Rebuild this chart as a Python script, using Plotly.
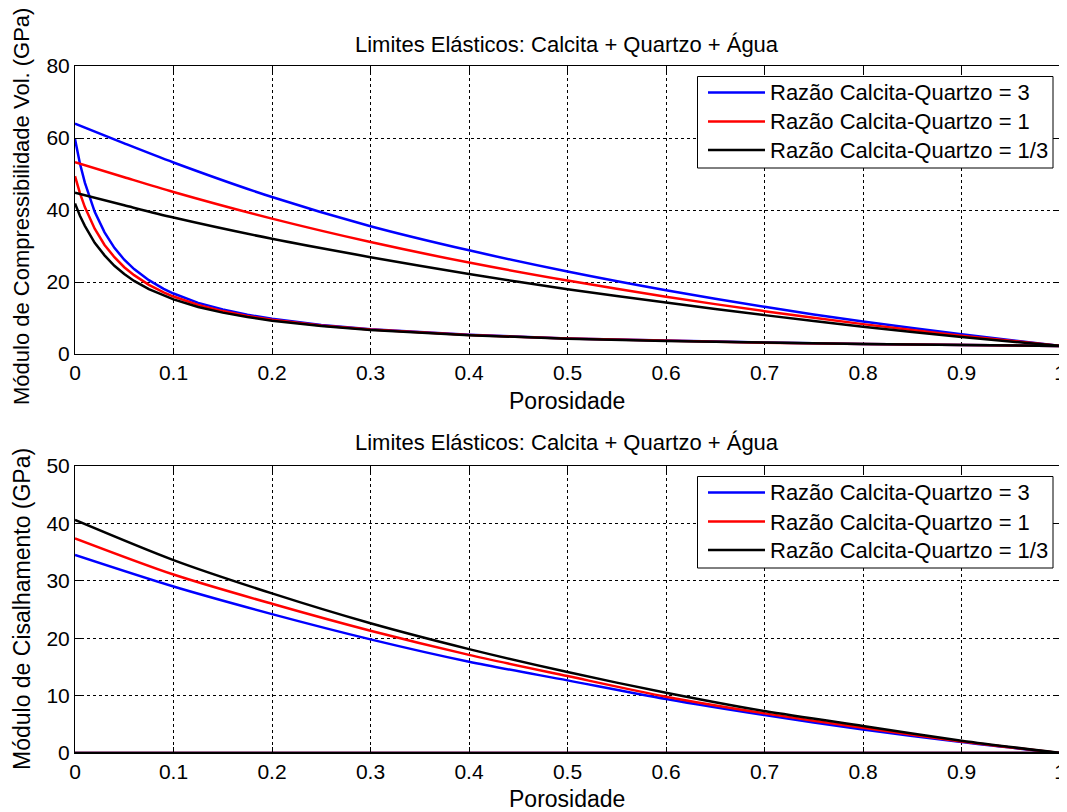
import plotly.graph_objects as go

# ---------------- data ----------------
legend_labels = ["Razão Calcita-Quartzo = 3", "Razão Calcita-Quartzo = 1", "Razão Calcita-Quartzo = 1/3"]
series_colors = ["#0000ff", "#ff0000", "#000000"]

x_ticks = [0, 0.1, 0.2, 0.3, 0.4, 0.5, 0.6, 0.7, 0.8, 0.9, 1.0]
x_tick_text = ["0", "0.1", "0.2", "0.3", "0.4", "0.5", "0.6", "0.7", "0.8", "0.9", "1"]
k_ticks = [0, 20, 40, 60, 80]
mu_ticks = [0, 10, 20, 30, 40, 50]

# Bulk modulus - upper bounds
porosity_k_upper = [0, 0.05, 0.1, 0.2, 0.3, 0.4, 0.5, 0.6, 0.7, 0.8, 0.9, 1.0]
k_upper_r3 = [64.0, 58.5, 53.2, 43.6, 35.5, 28.8, 22.9, 17.7, 13.1, 9.0, 5.5, 2.25]
k_upper_r1 = [53.3, 49.1, 45.0, 37.6, 31.1, 25.4, 20.4, 15.9, 11.9, 8.3, 5.1, 2.25]
k_upper_r13 = [44.8, 41.3, 37.9, 32.0, 26.9, 22.2, 18.0, 14.3, 10.8, 7.6, 4.7, 2.25]

# Bulk modulus - lower bounds
porosity_k_lower = [0, 0.0025, 0.005, 0.01, 0.015, 0.02, 0.03, 0.04, 0.05, 0.06, 0.075,
                    0.09, 0.1, 0.125, 0.15, 0.175, 0.2, 0.25, 0.3, 0.4, 0.5, 0.6, 0.7,
                    0.8, 0.9, 1.0]
k_lower_r3 = [59.7, 56.1, 52.9, 47.6, 43.2, 39.5, 33.8, 29.5, 26.2, 23.6, 20.5,
              18.1, 16.8, 14.2, 12.4, 10.9, 9.78, 8.09, 6.89, 5.32, 4.34, 3.66, 3.16,
              2.79, 2.49, 2.25]
k_lower_r1 = [49.4, 46.9, 44.7, 40.8, 37.6, 34.8, 30.3, 26.9, 24.1, 21.9, 19.2,
              17.1, 15.96, 13.65, 11.92, 10.58, 9.52, 7.92, 6.78, 5.27, 4.30, 3.64, 3.15,
              2.78, 2.49, 2.25]
k_lower_r13 = [41.8, 40.0, 38.4, 35.6, 33.1, 30.9, 27.4, 24.5, 22.2, 20.3, 18.0,
               16.2, 15.16, 13.07, 11.49, 10.25, 9.26, 7.75, 6.66, 5.20, 4.27, 3.62, 3.14,
               2.78, 2.49, 2.25]

# Shear modulus - upper bounds
porosity_mu_upper = [0, 0.1, 0.2, 0.3, 0.4, 0.5, 0.6, 0.7, 0.8, 0.9, 1.0]
mu_upper_r3 = [34.5, 29.0, 24.2, 19.8, 15.9, 12.65, 9.4, 6.6, 4.1, 1.9, 0.0]
mu_upper_r1 = [37.4, 31.1, 26.0, 21.3, 17.1, 13.4, 9.8, 6.9, 4.4, 2.0, 0.0]
mu_upper_r13 = [40.6, 33.6, 27.8, 22.6, 18.1, 14.1, 10.5, 7.3, 4.7, 2.15, 0.0]

# Shear modulus - lower bounds
porosity_mu_lower = [0, 1.0]
mu_lower_r3 = [0.0, 0.0]
mu_lower_r1 = [0.0, 0.0]
mu_lower_r13 = [0.0, 0.0]

title_text = "Limites Elásticos: Calcita + Quartzo + Água"
x_title = "Porosidade"
k_title = "Módulo de Compressibilidade Vol. (GPa)"
mu_title = "Módulo de Cisalhamento (GPa)"

# ---------------- figure ----------------
FONT = "Liberation Sans, Arial, Helvetica, sans-serif"
OFF = 8                      # page body margin offset
W, H = 1067 - OFF, 812 - OFF


def xp(px):
    return (px - OFF) / W


def yp(py):
    return 1 - (py - OFF) / H


fig = go.Figure()

k_up = [k_upper_r3, k_upper_r1, k_upper_r13]
k_lo = [k_lower_r3, k_lower_r1, k_lower_r13]
mu_up = [mu_upper_r3, mu_upper_r1, mu_upper_r13]
mu_lo = [mu_lower_r3, mu_lower_r1, mu_lower_r13]
LW = 2.5

for i in range(3):
    fig.add_trace(go.Scatter(x=porosity_k_upper, y=k_up[i], mode="lines",
                             line=dict(color=series_colors[i], width=LW, shape="spline", smoothing=0.8),
                             name=legend_labels[i], showlegend=False,
                             xaxis="x", yaxis="y"))
    fig.add_trace(go.Scatter(x=porosity_k_lower, y=k_lo[i], mode="lines",
                             line=dict(color=series_colors[i], width=LW),
                             showlegend=False, xaxis="x", yaxis="y"))
for i in range(3):
    fig.add_trace(go.Scatter(x=porosity_mu_upper, y=mu_up[i], mode="lines",
                             line=dict(color=series_colors[i], width=LW, shape="spline", smoothing=0.8),
                             name=legend_labels[i], showlegend=False,
                             xaxis="x2", yaxis="y2"))
    fig.add_trace(go.Scatter(x=porosity_mu_lower, y=mu_lo[i], mode="lines",
                             line=dict(color=series_colors[i], width=LW),
                             showlegend=False, xaxis="x2", yaxis="y2"))

# plot areas in window pixels: x 75..1060 ; top y 66..354 ; bottom y 466..753
xd = [xp(75), xp(1060)]
top_dom = [yp(354), yp(66)]
bot_dom = [yp(753), yp(466)]

axis_common = dict(showline=True, linecolor="black", linewidth=1, mirror="ticks",
                   ticks="inside", ticklen=6, tickcolor="black", tickwidth=1,
                   showgrid=True, gridcolor="black", gridwidth=1, griddash="dot",
                   zeroline=False, automargin=False,
                   tickfont=dict(family=FONT, size=21, color="black"))

fig.update_layout(
    template="none",
    width=W, height=H, autosize=False,
    margin=dict(l=0, r=0, t=0, b=0, pad=0),
    paper_bgcolor="white", plot_bgcolor="white",
    font=dict(family=FONT, size=21, color="black"),
    xaxis=dict(domain=xd, anchor="y", range=[0, 1], tickvals=x_ticks, ticktext=x_tick_text, **axis_common),
    yaxis=dict(domain=top_dom, anchor="x", range=[0, 80], tickvals=k_ticks, **axis_common),
    xaxis2=dict(domain=xd, anchor="y2", range=[0, 1], tickvals=x_ticks, ticktext=x_tick_text, **axis_common),
    yaxis2=dict(domain=bot_dom, anchor="x2", range=[0, 50], tickvals=mu_ticks, **axis_common),
    showlegend=False,
)

ann_font = dict(family=FONT, size=22, color="black")
lab_font = dict(family=FONT, size=23, color="black")
ylab_font = dict(family=FONT, size=22, color="black")
leg_font = dict(family=FONT, size=22, color="black")
cx = xp((75 + 1060) / 2)
annotations = [
    dict(text=title_text, x=cx, y=yp(44), xref="paper", yref="paper",
         xanchor="center", yanchor="middle", showarrow=False, font=ann_font),
    dict(text=title_text, x=cx, y=yp(442), xref="paper", yref="paper",
         xanchor="center", yanchor="middle", showarrow=False, font=ann_font),
    dict(text=x_title, x=cx, y=yp(401), xref="paper", yref="paper",
         xanchor="center", yanchor="middle", showarrow=False, font=lab_font),
    dict(text=x_title, x=cx, y=yp(799), xref="paper", yref="paper",
         xanchor="center", yanchor="middle", showarrow=False, font=lab_font),
    dict(text=k_title, x=xp(22), y=yp(207), xref="paper", yref="paper",
         xanchor="center", yanchor="middle", showarrow=False, textangle=-90, font=ylab_font),
    dict(text=mu_title, x=xp(22), y=yp(609), xref="paper", yref="paper",
         xanchor="center", yanchor="middle", showarrow=False, textangle=-90, font=lab_font),
]

# legend boxes (drawn as shapes + text)
shapes = []
for box_top, rows in [(76.5, [92.5, 121.5, 150.0]), (476.5, [492.5, 521.5, 550.0])]:
    shapes.append(dict(type="rect", xref="paper", yref="paper",
                       x0=xp(697.5), x1=xp(1053), y0=yp(box_top + 91.5), y1=yp(box_top),
                       line=dict(color="black", width=1), fillcolor="white", layer="above"))
    for i, ry in enumerate(rows):
        shapes.append(dict(type="line", xref="paper", yref="paper",
                           x0=xp(708), x1=xp(765), y0=yp(ry), y1=yp(ry),
                           line=dict(color=series_colors[i], width=LW), layer="above"))
        annotations.append(dict(text=legend_labels[i], x=xp(768), y=yp(ry + 0.5),
                                xref="paper", yref="paper", xanchor="left", yanchor="middle",
                                showarrow=False, font=leg_font))

fig.update_layout(annotations=annotations, shapes=shapes)

fig.write_html("out.html")
